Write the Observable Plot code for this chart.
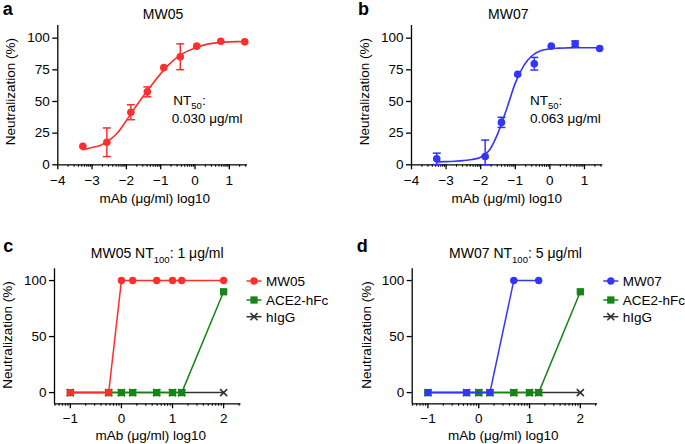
<!DOCTYPE html>
<html>
<head>
<meta charset="utf-8">
<script src="https://cdn.jsdelivr.net/npm/d3@7"></script>
<script src="https://cdn.jsdelivr.net/npm/@observablehq/plot@0.6"></script>
<style>
  body { margin: 0; background: #fff; }
  #root { position: relative; width: 685px; height: 444px; overflow: hidden; background: #fff; }
  #root svg { position: absolute; }
  #root svg.panel text { font-size: 13.5px; font-family: "Liberation Sans", Arial, Helvetica, sans-serif; }
</style>
</head>
<body>
<div id="root"></div>
<script>
const FONT = '"Liberation Sans", Arial, Helvetica, sans-serif';
const RED = "#ff2e2e", BLUE = "#3434ff", GREEN = "#158515", GRAY = "#333333";

// ---- Panel a : MW05 neutralization (log10 µg/ml) ----
const concA = [-3.27, -2.57, -1.87, -1.39, -0.91, -0.43, 0.05, 0.75, 1.45];
const neutA = [14.6, 17.8, 41.5, 57.6, 76.7, 85.3, 93.7, 97.6, 97.1];
const sdA   = [0, 11.3, 5.9, 3.9, 0, 10.2, 0, 0, 0];
const fitAx = [-3.27, -3.0, -2.75, -2.5, -2.25, -2.0, -1.75, -1.5, -1.25, -1.0, -0.75, -0.5, -0.25, 0, 0.25, 0.5, 0.75, 1.0, 1.25, 1.45];
const fitAy = [12.0, 13.6, 15.5, 19.5, 25.5, 35, 45, 54.5, 63.5, 72, 79.5, 85.3, 89.4, 92.3, 94.5, 95.9, 96.7, 97.1, 97.3, 97.4];

// ---- Panel b : MW07 ----
const concB = [-3.27, -1.87, -1.40, -0.93, -0.45, 0.04, 0.73, 1.44];
const neutB = [4.7, 6.5, 33.5, 71.5, 79.8, 93.7, 95.5, 91.8];
const sdB   = [4.5, 13, 4, 0, 5, 0, 2.3, 0];
const fitBx = [-3.27, -3.0, -2.75, -2.5, -2.25, -2.0, -1.75, -1.5, -1.25, -1.0, -0.75, -0.5, -0.25, 0, 0.25, 0.5, 0.75, 1.0, 1.25, 1.44];
const fitBy = [2.3, 2.5, 2.8, 3.3, 4.2, 6.0, 11.5, 25, 44, 64.5, 78.5, 86.5, 90.2, 91.6, 92.1, 92.3, 92.4, 92.4, 92.4, 92.4];

// ---- Panel c : MW05 NT100 ----
const concC  = [-1, -0.25, 0, 0.22, 0.69, 1.0, 1.18, 2];
const mw05C  = [0, 0, 100, 100, 100, 100, 100, 100];
const ace2C  = [0, 0, 0, 0, 0, 0, 0, 90];
const higgC  = [0, 0, 0, 0, 0, 0, 0, 0];

// ---- Panel d : MW07 NT100 ----
const concMW07 = [-1, -0.24, 0.22, 0.69, 1.18];
const mw07D    = [0, 0, 0, 100, 100];
const concD    = [-1, -0.24, 0, 0.22, 0.69, 1.0, 1.18, 2];
const ace2D    = [0, 0, 0, 0, 0, 0, 0, 90];
const higgD    = [0, 0, 0, 0, 0, 0, 0, 0];

// ---- tick labels ----
const ticksYab = [0, 25, 50, 75, 100];
const ticksXab = [-4, -3, -2, -1, 0, 1];
const ticksYcd = [0, 50, 100];
const ticksXcd = [-1, 0, 1, 2];
const minorMult = [2, 3, 4, 5, 6, 7, 8, 9];

const fmt = d => (d < 0 ? "\u2212" + Math.abs(d) : String(d));

function minorTicks(lo, hi) {
  const out = [];
  for (let k = Math.floor(lo) - 1; k <= Math.ceil(hi); k++)
    for (const m of minorMult) { const v = k + Math.log10(m); if (v > lo && v < hi) out.push(v); }
  return out;
}

const capSymbol = { draw(ctx, size) { const r = Math.sqrt(size / Math.PI); ctx.moveTo(-r, 0); ctx.lineTo(r, 0); } };
const plotStyle = { fontFamily: FONT, fontSize: "13.5px", color: "#000", background: "transparent" };
const FS = 13.5;

function doseResponse({ conc, neut, sd, fitX, fitY, color, width, marginLeft, marginRight }) {
  const pts = conc.map((x, i) => ({ x, y: neut[i], sd: sd[i], lo: Math.max(0, neut[i] - sd[i]), hi: neut[i] + sd[i] }));
  const errs = pts.filter(d => d.sd > 0);
  const fit = fitX.map((x, i) => ({ x, y: fitY[i] }));
  const xd = [-4, 1.53];
  return Plot.plot({
    width, height: 215, marginTop: 25, marginBottom: 50.7, marginLeft, marginRight,
    className: "panel",
    style: plotStyle,
    x: { domain: xd }, y: { domain: [0, 110] },
    marks: [
      Plot.axisY({ ticks: ticksYab, tickSize: 5, tickPadding: 3, strokeWidth: 1.3, label: null, fontSize: FS, tickFormat: fmt }),
      Plot.axisX({ ticks: ticksXab, tickSize: 5, tickPadding: 6, strokeWidth: 1.3, label: null, fontSize: FS, tickFormat: fmt }),
      Plot.axisX({ ticks: minorTicks(xd[0], xd[1]), tickSize: 2.5, tickFormat: () => "", strokeWidth: 1, label: null }),
      Plot.ruleX([xd[0]], { stroke: "#000", strokeWidth: 1.3 }),
      Plot.ruleY([0], { stroke: "#000", strokeWidth: 1.3 }),
      Plot.line(fit, { x: "x", y: "y", stroke: color, strokeWidth: 1.6, curve: "monotone-x" }),
      Plot.ruleX(errs, { x: "x", y1: "lo", y2: "hi", stroke: color, strokeWidth: 1.5 }),
      Plot.dot(errs, { x: "x", y: "hi", symbol: capSymbol, r: 4, stroke: color, strokeWidth: 1.5, fill: "none" }),
      Plot.dot(errs, { x: "x", y: "lo", symbol: capSymbol, r: 4, stroke: color, strokeWidth: 1.5, fill: "none" }),
      Plot.dot(pts, { x: "x", y: "y", r: 3.8, fill: color, stroke: "none" })
    ]
  });
}

function ntPanel({ series, width, marginLeft, marginRight }) {
  const xd = [-1.31, 2.34], yd = [-10, 110.5];
  const marks = [
    Plot.axisY({ ticks: ticksYcd, tickSize: 5, tickPadding: 3, strokeWidth: 1.3, label: null, fontSize: FS, tickFormat: fmt }),
    Plot.axisX({ ticks: ticksXcd, tickSize: 5, tickPadding: 5, strokeWidth: 1.3, label: null, fontSize: FS, tickFormat: fmt }),
    Plot.axisX({ ticks: minorTicks(xd[0], xd[1]), tickSize: 2.5, tickFormat: () => "", strokeWidth: 1, label: null }),
    Plot.ruleX([xd[0]], { stroke: "#000", strokeWidth: 1.3 }),
    Plot.ruleY([yd[0]], { stroke: "#000", strokeWidth: 1.3 })
  ];
  for (const s of series) {
    const data = s.x.map((x, i) => ({ x, y: s.y[i] }));
    marks.push(Plot.line(data, { x: "x", y: "y", stroke: s.color, strokeWidth: 1.5 }));
    if (s.symbol === "times")
      marks.push(Plot.dot(data, { x: "x", y: "y", symbol: "times", r: 3.3, stroke: s.color, strokeWidth: 1.6, fill: "none" }));
    else if (s.symbol === "square")
      marks.push(Plot.dot(data, { x: "x", y: "y", symbol: "square", r: 4.1, fill: s.color, stroke: "none" }));
    else
      marks.push(Plot.dot(data, { x: "x", y: "y", r: 3.7, fill: s.color, stroke: "none" }));
  }
  return Plot.plot({
    width, height: 229, marginTop: 53.3, marginBottom: 40.7, marginLeft, marginRight,
    className: "panel",
    style: plotStyle, x: { domain: xd }, y: { domain: yd }, marks
  });
}

const root = document.getElementById("root");
function place(el, left, top) { el.classList.add("panel"); el.style.left = left + "px"; el.style.top = top + "px"; root.appendChild(el); }

place(doseResponse({ conc: concA, neut: neutA, sd: sdA, fitX: fitAx, fitY: fitAy, color: RED, width: 342, marginLeft: 57.3, marginRight: 95 }), 0, 0);
place(doseResponse({ conc: concB, neut: neutB, sd: sdB, fitX: fitBx, fitY: fitBy, color: BLUE, width: 343, marginLeft: 69, marginRight: 82.7 }), 342, 0);
place(ntPanel({ width: 342, marginLeft: 54, marginRight: 101.5, series: [
  { x: concC, y: higgC, color: GRAY, symbol: "times" },
  { x: concC, y: ace2C, color: GREEN, symbol: "square" },
  { x: concC, y: mw05C, color: RED, symbol: "circle" }
] }), 0, 215);
place(ntPanel({ width: 343, marginLeft: 69.7, marginRight: 87.9, series: [
  { x: concD, y: higgD, color: GRAY, symbol: "times" },
  { x: concD, y: ace2D, color: GREEN, symbol: "square" },
  { x: concMW07, y: mw07D, color: BLUE, symbol: "circle" }
] }), 342, 215);

// ---- overlay text: panel letters, titles, annotations, axis titles, legends ----
const ov = d3.select(root).append("svg").attr("width", 685).attr("height", 444)
  .style("left", "0px").style("top", "0px").style("font-family", FONT).style("pointer-events", "none");

function text(x, y, parts, { size = 13.5, weight = "normal", anchor = "start", rotate = 0 } = {}) {
  const t = ov.append("text").attr("transform", `translate(${x},${y})` + (rotate ? ` rotate(${rotate})` : ""))
    .attr("text-anchor", anchor).attr("font-size", size).attr("font-weight", weight).attr("fill", "#000");
  if (typeof parts === "string") { t.text(parts); return t; }
  for (const p of parts) {
    if (typeof p === "string") t.append("tspan").text(p);
    else t.append("tspan").attr("dy", p.dy).attr("font-size", p.size || null).text(p.t);
  }
  return t;
}

// panel letters
text(2.7, 15, "a", { size: 18, weight: "bold" });
text(358, 15, "b", { size: 18, weight: "bold" });
text(3.3, 252.3, "c", { size: 18, weight: "bold" });
text(356.7, 252.3, "d", { size: 18, weight: "bold" });

// titles
text(163, 19, "MW05", { size: 14, anchor: "middle" });
text(508.3, 19, "MW07", { size: 14, anchor: "middle" });
text(157.2, 258.3, ["MW05 NT", { t: "100", dy: 4.5, size: 9.5 }, { t: ": 1 μg/ml", dy: -4.5, size: 14 }], { size: 14, anchor: "middle" });
text(515.5, 258.3, ["MW07 NT", { t: "100", dy: 4.5, size: 9.5 }, { t: ": 5 μg/ml", dy: -4.5, size: 14 }], { size: 14, anchor: "middle" });

// NT50 annotations
text(173.3, 105, ["NT", { t: "50", dy: 3.5, size: 9.5 }, { t: ":", dy: -3.5, size: 13.5 }]);
text(171.7, 123.3, "0.030 μg/ml");
text(530, 105, ["NT", { t: "50", dy: 3.5, size: 9.5 }, { t: ":", dy: -3.5, size: 13.5 }]);
text(530, 123.3, "0.063 μg/ml");

// axis titles
const xTitle = "mAb (μg/ml) log10", yTitle = "Neutralization (%)";
text(154.7, 203, xTitle, { anchor: "middle" });
text(506.7, 203, xTitle, { anchor: "middle" });
text(150.8, 440, xTitle, { anchor: "middle" });
text(503.3, 440, xTitle, { anchor: "middle" });
text(14.5, 91.7, yTitle, { anchor: "middle", rotate: -90 });
text(369, 91.7, yTitle, { anchor: "middle", rotate: -90 });
text(11.5, 335, yTitle, { anchor: "middle", rotate: -90 });
text(370.7, 335, yTitle, { anchor: "middle", rotate: -90 });

// legends
function legend(x0, items) {
  const rowsY = [285.8, 304.8, 321.5];
  items.forEach((it, i) => {
    const cy = rowsY[i] - 4.8;
    ov.append("line").attr("x1", x0).attr("x2", x0 + 15).attr("y1", cy).attr("y2", cy)
      .attr("stroke", it.color).attr("stroke-width", 1.5);
    const type = it.symbol === "square" ? d3.symbolSquare : it.symbol === "times" ? d3.symbolTimes : d3.symbolCircle;
    const r = it.symbol === "square" ? 4.1 : it.symbol === "times" ? 3.3 : 3.7;
    const p = ov.append("path").attr("transform", `translate(${x0 + 7.5},${cy})`)
      .attr("d", d3.symbol(type, Math.PI * r * r)());
    if (it.symbol === "times") p.attr("fill", "none").attr("stroke", it.color).attr("stroke-width", 1.6);
    else p.attr("fill", it.color);
    text(x0 + 19.5, rowsY[i], it.label);
  });
}
legend(246.5, [
  { label: "MW05", color: RED, symbol: "circle" },
  { label: "ACE2-hFc", color: GREEN, symbol: "square" },
  { label: "hIgG", color: GRAY, symbol: "times" }
]);
legend(603.3, [
  { label: "MW07", color: BLUE, symbol: "circle" },
  { label: "ACE2-hFc", color: GREEN, symbol: "square" },
  { label: "hIgG", color: GRAY, symbol: "times" }
]);
</script>
</body>
</html>
